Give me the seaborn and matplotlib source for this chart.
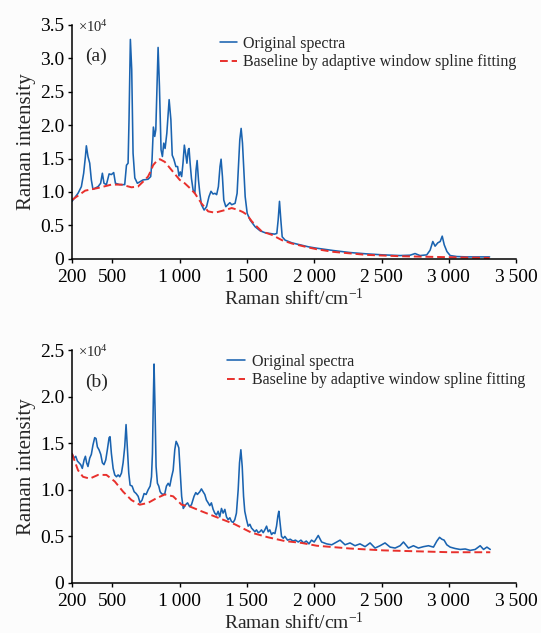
import matplotlib
matplotlib.use('Agg')
import matplotlib.pyplot as plt
import pandas as pd
import seaborn as sns

# values, intensity in units of 1e4
a_raw_shift = [200, 245, 270, 287, 300, 307, 319, 332, 344, 356, 394, 413, 426, 438, 456, 476, 493, 510,
               523, 555, 592, 605, 617, 624, 634, 644, 654, 667, 686, 728, 765, 785, 795, 805, 815, 823,
               830, 840, 850, 862, 872, 882, 892, 905, 922, 935, 945, 957, 972, 985, 995, 1005, 1015, 1025,
               1035, 1044, 1054, 1064, 1070, 1078, 1088, 1100, 1113, 1122, 1130, 1140, 1150, 1162, 1182,
               1200, 1218, 1233, 1248, 1263, 1275, 1288, 1300, 1308, 1318, 1328, 1343, 1358, 1373, 1387,
               1412, 1427, 1437, 1447, 1457, 1467, 1477, 1487, 1502, 1524, 1561, 1598, 1636, 1673, 1705,
               1722, 1732, 1742, 1752, 1762, 1784, 1834, 1896, 1958, 2018, 2142, 2266, 2390, 2514, 2638,
               2712, 2749, 2786, 2836, 2861, 2881, 2898, 2918, 2936, 2951, 2966, 2986, 3010, 3060, 3134,
               3208, 3303]
a_raw_int = [0.86, 0.98, 1.08, 1.28, 1.53, 1.69, 1.53, 1.43, 1.18, 1.04, 1.08, 1.13, 1.28, 1.13, 1.11, 1.27,
             1.26, 1.29, 1.13, 1.11, 1.11, 1.40, 1.43, 2.08, 3.28, 2.83, 1.58, 1.21, 1.13, 1.18, 1.19, 1.23,
             1.48, 1.97, 1.83, 1.93, 2.43, 3.16, 2.58, 1.63, 1.53, 1.73, 1.65, 1.88, 2.38, 2.08, 1.55, 1.49,
             1.38, 1.38, 1.24, 1.30, 1.23, 1.43, 1.70, 1.58, 1.43, 1.63, 1.65, 1.43, 1.20, 1.03, 0.98, 1.33,
             1.47, 1.18, 0.98, 0.81, 0.73, 0.78, 0.93, 1.01, 0.97, 0.98, 0.96, 1.08, 1.38, 1.49, 1.23, 0.88,
             0.78, 0.81, 0.84, 0.81, 0.83, 0.98, 1.38, 1.78, 1.95, 1.73, 1.33, 0.93, 0.68, 0.58, 0.48, 0.42,
             0.39, 0.38, 0.37, 0.38, 0.58, 0.86, 0.58, 0.33, 0.28, 0.24, 0.21, 0.18, 0.16, 0.125, 0.095,
             0.075, 0.06, 0.05, 0.055, 0.08, 0.05, 0.06, 0.13, 0.26, 0.19, 0.24, 0.26, 0.34, 0.21, 0.11,
             0.05, 0.035, 0.03, 0.03, 0.03]
a_base_shift = [200, 298, 394, 493, 567, 642, 690, 716, 742, 765, 785, 803, 828, 853, 890, 939, 1001, 1038,
                1075, 1113, 1162, 1212, 1263, 1300, 1338, 1387, 1437, 1470, 1500, 1537, 1575, 1611, 1685,
                1760, 1834, 1958, 2018, 2142, 2390, 2638, 2886, 3134, 3303]
a_base_int = [0.88, 1.02, 1.06, 1.11, 1.11, 1.07, 1.08, 1.13, 1.18, 1.23, 1.31, 1.40, 1.46, 1.49, 1.45, 1.33,
              1.18, 1.13, 1.06, 0.98, 0.83, 0.71, 0.69, 0.71, 0.73, 0.76, 0.73, 0.70, 0.66, 0.56, 0.48, 0.41,
              0.36, 0.28, 0.23, 0.17, 0.145, 0.105, 0.06, 0.04, 0.03, 0.02, 0.015]

b_raw_shift = [200, 215, 228, 240, 252, 265, 277, 290, 300, 309, 319, 332, 344, 356, 369, 379, 389, 401,
               414, 426, 438, 451, 463, 476, 483, 493, 506, 518, 531, 543, 555, 568, 580, 592, 602, 612,
               622, 632, 647, 662, 677, 692, 706, 721, 736, 751, 766, 781, 791, 798, 805, 810, 818, 825,
               835, 845, 855, 865, 877, 890, 902, 915, 927, 939, 952, 964, 974, 984, 994, 1004, 1015, 1027,
               1044, 1059, 1074, 1088, 1107, 1120, 1132, 1150, 1162, 1174, 1187, 1199, 1212, 1224, 1236,
               1249, 1261, 1274, 1286, 1298, 1311, 1323, 1336, 1348, 1360, 1373, 1385, 1398, 1410, 1422,
               1435, 1445, 1455, 1465, 1475, 1484, 1497, 1509, 1522, 1534, 1546, 1559, 1571, 1584, 1596,
               1608, 1621, 1633, 1646, 1658, 1670, 1683, 1695, 1708, 1720, 1730, 1737, 1747, 1757, 1770,
               1782, 1802, 1822, 1842, 1861, 1881, 1901, 1921, 1941, 1961, 1980, 2000, 2030, 2055, 2092,
               2130, 2167, 2192, 2229, 2266, 2303, 2340, 2378, 2415, 2452, 2489, 2526, 2564, 2601, 2638,
               2663, 2700, 2737, 2774, 2812, 2849, 2886, 2911, 2931, 2948, 2965, 2985, 3010, 3047, 3084,
               3122, 3159, 3196, 3233, 3258, 3283, 3308]
b_raw_int = [1.39, 1.34, 1.36, 1.31, 1.29, 1.27, 1.23, 1.32, 1.36, 1.29, 1.25, 1.34, 1.38, 1.48, 1.56, 1.55,
             1.46, 1.43, 1.38, 1.29, 1.27, 1.32, 1.43, 1.56, 1.57, 1.39, 1.23, 1.16, 1.14, 1.16, 1.14, 1.18,
             1.29, 1.46, 1.70, 1.43, 1.18, 1.05, 1.04, 0.98, 0.96, 0.93, 0.86, 0.89, 0.96, 0.95, 1.00, 1.04,
             1.14, 1.39, 2.00, 2.35, 1.82, 1.25, 1.07, 1.04, 0.98, 0.96, 0.95, 0.96, 1.04, 1.07, 1.04, 1.13,
             1.21, 1.43, 1.52, 1.49, 1.45, 1.21, 0.93, 0.80, 0.84, 0.86, 0.82, 0.84, 0.93, 0.97, 0.95, 0.98,
             1.01, 0.98, 0.95, 0.89, 0.86, 0.83, 0.86, 0.79, 0.75, 0.73, 0.77, 0.71, 0.80, 0.75, 0.79, 0.71,
             0.68, 0.70, 0.66, 0.65, 0.68, 0.75, 1.00, 1.29, 1.43, 1.25, 0.93, 0.77, 0.68, 0.61, 0.63, 0.59,
             0.57, 0.55, 0.57, 0.54, 0.55, 0.57, 0.54, 0.57, 0.61, 0.55, 0.57, 0.52, 0.54, 0.53, 0.61, 0.72,
             0.77, 0.64, 0.50, 0.48, 0.50, 0.46, 0.47, 0.45, 0.46, 0.44, 0.46, 0.43, 0.45, 0.42, 0.46, 0.44,
             0.51, 0.44, 0.42, 0.41, 0.44, 0.46, 0.41, 0.43, 0.40, 0.42, 0.39, 0.43, 0.375, 0.40, 0.43,
             0.385, 0.375, 0.40, 0.44, 0.375, 0.40, 0.375, 0.39, 0.40, 0.385, 0.45, 0.49, 0.47, 0.46, 0.41,
             0.385, 0.37, 0.36, 0.365, 0.35, 0.36, 0.40, 0.36, 0.385, 0.36]
b_base_shift = [200, 245, 282, 332, 394, 456, 518, 580, 642, 704, 766, 828, 890, 952, 1015, 1077, 1162,
                1286, 1410, 1534, 1658, 1782, 1906, 2018, 2266, 2514, 2762, 3010, 3308]
b_base_int = [1.39, 1.21, 1.14, 1.12, 1.16, 1.16, 1.09, 0.98, 0.89, 0.84, 0.86, 0.91, 0.95, 0.93, 0.84,
              0.82, 0.77, 0.70, 0.63, 0.54, 0.49, 0.45, 0.43, 0.40, 0.37, 0.35, 0.34, 0.33, 0.33]

x_ticks = [200, 500, 1000, 1500, 2000, 2500, 3000, 3500]
x_tick_labels = ['200', '500', '1\u2009000', '1\u2009500', '2\u2009000', '2\u2009500', '3\u2009000', '3\u2009500']

sns.set_style('ticks')
plt.rcParams['font.family'] = ['Liberation Serif', 'DejaVu Serif']
plt.rcParams['mathtext.fontset'] = 'custom'
plt.rcParams['mathtext.rm'] = 'Liberation Serif'
plt.rcParams['mathtext.it'] = 'Liberation Serif:italic'

blue = '#1a63b0'
red = '#e8302c'

fig = plt.figure(figsize=(5.41, 6.33), dpi=100)
fig.patch.set_facecolor('#fcfcfc')

panels = [
    ('(a)', a_raw_shift, a_raw_int, a_base_shift, a_base_int, [0.133, 0.591, 0.821, 0.370], 3.5,
     (0.333, 0.953), 0.35),
    ('(b)', b_raw_shift, b_raw_int, b_base_shift, b_base_int, [0.133, 0.079, 0.821, 0.368], 2.5,
     (0.349, 0.984), 0.45),
]

for tag, rs, ri, bs, bi, rect, ytop, leg_pos, pad in panels:
    ax = fig.add_axes(rect)
    ax.set_facecolor('#fcfcfc')
    raw = pd.DataFrame({'shift': rs, 'intensity': ri})
    base = pd.DataFrame({'shift': bs, 'intensity': bi})
    sns.lineplot(data=raw, x='shift', y='intensity', ax=ax, color=blue, lw=1.15,
                 estimator=None, label='Original spectra')
    sns.lineplot(data=base, x='shift', y='intensity', ax=ax, color=red, lw=1.4,
                 estimator=None, dashes=False, label='Baseline by adaptive window spline fitting')
    ax.lines[1].set_dashes([4, 2])

    ax.set_xlim(200, 3500)
    ax.set_ylim(0, ytop)
    ax.set_xticks(x_ticks)
    ax.set_xticklabels(x_tick_labels)
    yt = [i * 0.5 for i in range(int(ytop / 0.5) + 1)]
    ax.set_yticks(yt)
    ax.set_yticklabels(['0'] + ['%.1f' % v for v in yt[1:]])
    ax.tick_params(labelsize=14, length=3, width=1, direction='out', colors='black')
    ax.tick_params(axis='x', pad=4.5)
    ax.tick_params(axis='y', pad=2.5)
    for s in ['top', 'right']:
        ax.spines[s].set_visible(False)
    for s in ['left', 'bottom']:
        ax.spines[s].set_linewidth(1.1)
        ax.spines[s].set_color('black')

    ax.set_xlabel('Raman shift/cm$^{-1}$', fontsize=14, labelpad=1)
    ax.set_ylabel('Raman intensity', fontsize=15, labelpad=3)

    ax.text(0.013, 0.99, r'$\times$10$^4$', transform=ax.transAxes, fontsize=10.5, va='center', ha='left')
    ax.text(0.03, 0.863, tag, transform=ax.transAxes, fontsize=14, va='center', ha='left')

    ax.legend(loc='upper left', bbox_to_anchor=leg_pos, frameon=False, fontsize=11.5,
              borderaxespad=0, borderpad=0, handlelength=1.1, handletextpad=pad, labelspacing=0.15)

fig.savefig('out.png', dpi=100, facecolor=fig.get_facecolor())
